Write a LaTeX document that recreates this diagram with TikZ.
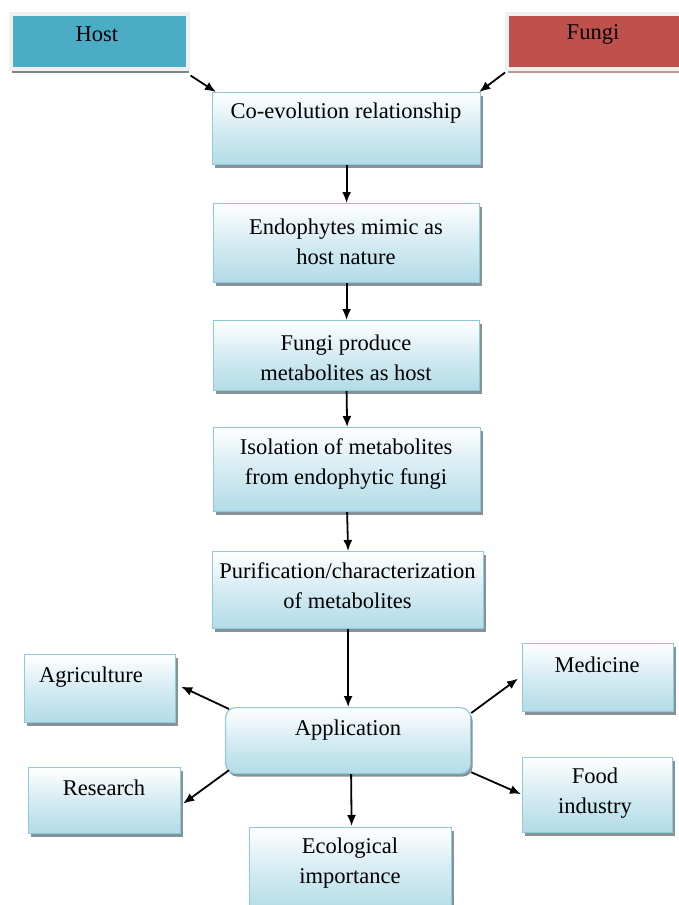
\documentclass[tikz,border=0pt]{standalone}
\usepackage{fontspec}
\setmainfont{Liberation Serif}
\usetikzlibrary{shadows,calc,arrows.meta}
\definecolor{hostblue}{RGB}{75,172,198}
\definecolor{fungired}{RGB}{192,80,77}
\definecolor{boxblue}{RGB}{178,219,231}
\definecolor{boxline}{RGB}{141,203,219}
\definecolor{shadowgray}{RGB}{120,135,142}
\definecolor{pinkshadow}{RGB}{190,150,150}
\definecolor{frame}{RGB}{240,240,238}
\tikzset{
  box/.style={rectangle, draw=boxline, line width=1.2pt, anchor=north west,
    top color=white, bottom color=boxblue, middle color=boxblue!55,
    drop shadow={shadow xshift=2pt, shadow yshift=-3pt, fill=shadowgray, opacity=0.9},
    inner sep=0pt},
  topbox/.style={rectangle, draw=frame, line width=4pt, anchor=north west, inner sep=0pt,
    drop shadow={shadow xshift=1pt, shadow yshift=-4pt, fill=#1, opacity=1}},
  lbl/.style={align=center, inner sep=0pt, font=\fontsize{22.5}{30}\selectfont},
  arr/.style={line width=1.8pt, -{Latex[length=11pt,width=9pt]}}
}
\begin{document}
\begin{tikzpicture}[x=1pt,y=-1pt]
\useasboundingbox[fill=white] (0,0) rectangle (678,905);
% top boxes
\node[topbox=shadowgray, fill=hostblue, minimum width=176.5pt, minimum height=55pt] (host) at (9,11.5) {};
\node[lbl] (hostt) at (97,34) {Host};
\node[topbox=pinkshadow, fill=fungired, minimum width=185pt, minimum height=55pt] (fungi) at (505,11.5) {};
\node[lbl] (fungit) at (593,34) {Fungi};
% chain
\node[box, minimum width=268pt, minimum height=72pt] (co) at (212,92) {};
\node[lbl] (cot) at (346,113) {Co-evolution relationship};
\node[box, minimum width=266pt, minimum height=79pt] (endo) at (213,203) {};
\node[lbl] (endot) at (346,242) {Endophytes mimic as\\host nature};
\node[box, minimum width=266pt, minimum height=70pt] (fprod) at (213,320) {};
\node[lbl] (fprodt) at (346,358) {Fungi produce\\metabolites as host};
\node[box, minimum width=267pt, minimum height=84pt] (iso) at (213,427) {};
\node[lbl] (isot) at (346,464) {Isolation of metabolites\\from endophytic fungi};
\node[box, minimum width=271pt, minimum height=77pt] (pur) at (212,551) {};
\node[lbl] (purt) at (347.5,586) {Purification/characterization\\of metabolites};
% application
\node[box, rounded corners=10pt, minimum width=245pt, minimum height=66pt] (app) at (225,707) {};
\node[lbl] (appt) at (348,730) {Application};
\node[box, minimum width=151pt, minimum height=68pt] (agri) at (24,654) {};
\node[lbl] (agrit) at (91,677) {Agriculture};
\node[box, minimum width=151pt, minimum height=68pt] (med) at (522,643) {};
\node[lbl] (medt) at (597,665) {Medicine};
\node[box, minimum width=152pt, minimum height=66pt] (res) at (28,767) {};
\node[lbl] (rest) at (104,788) {Research};
\node[box, minimum width=150pt, minimum height=75pt] (food) at (522,757) {};
\node[lbl] (foodt) at (595,793) {Food\\industry};
\node[box, minimum width=202pt, minimum height=85pt] (eco) at (249,827) {};
\node[lbl] (ecot) at (350,863.5) {Ecological\\importance};
% arrows
\draw[arr] ($(host.south east)+(1,5)$) -- ($(co.north west)+(4,0)$);
\draw[arr] ($(fungi.south west)+(0,2)$) -- ($(co.north east)+(-2,0)$);
\draw[arr] (co.south) -- (endo.north);
\draw[arr] (endo.south) -- (fprod.north);
\draw[arr] (fprod.south) -- (iso.north);
\draw[arr] (iso.south) -- (pur.north);
\draw[arr] (pur.south) -- (app.north);
\draw[arr] ($(app.north west)+(4,2)$) -- ($(agri.east)+(5,-2)$);
\draw[arr] ($(app.north east)+(0,6)$) -- ($(med.west)+(-4,1)$);
\draw[arr] ($(app.south west)+(4,-4)$) -- ($(res.east)+(2,3)$);
\draw[arr] ($(app.south east)+(0,-2)$) -- ($(food.west)+(-1,-1)$);
\draw[arr] ($(app.south)+(3,0)$) -- ($(eco.north)+(1,-1)$);
\end{tikzpicture}
\end{document}
